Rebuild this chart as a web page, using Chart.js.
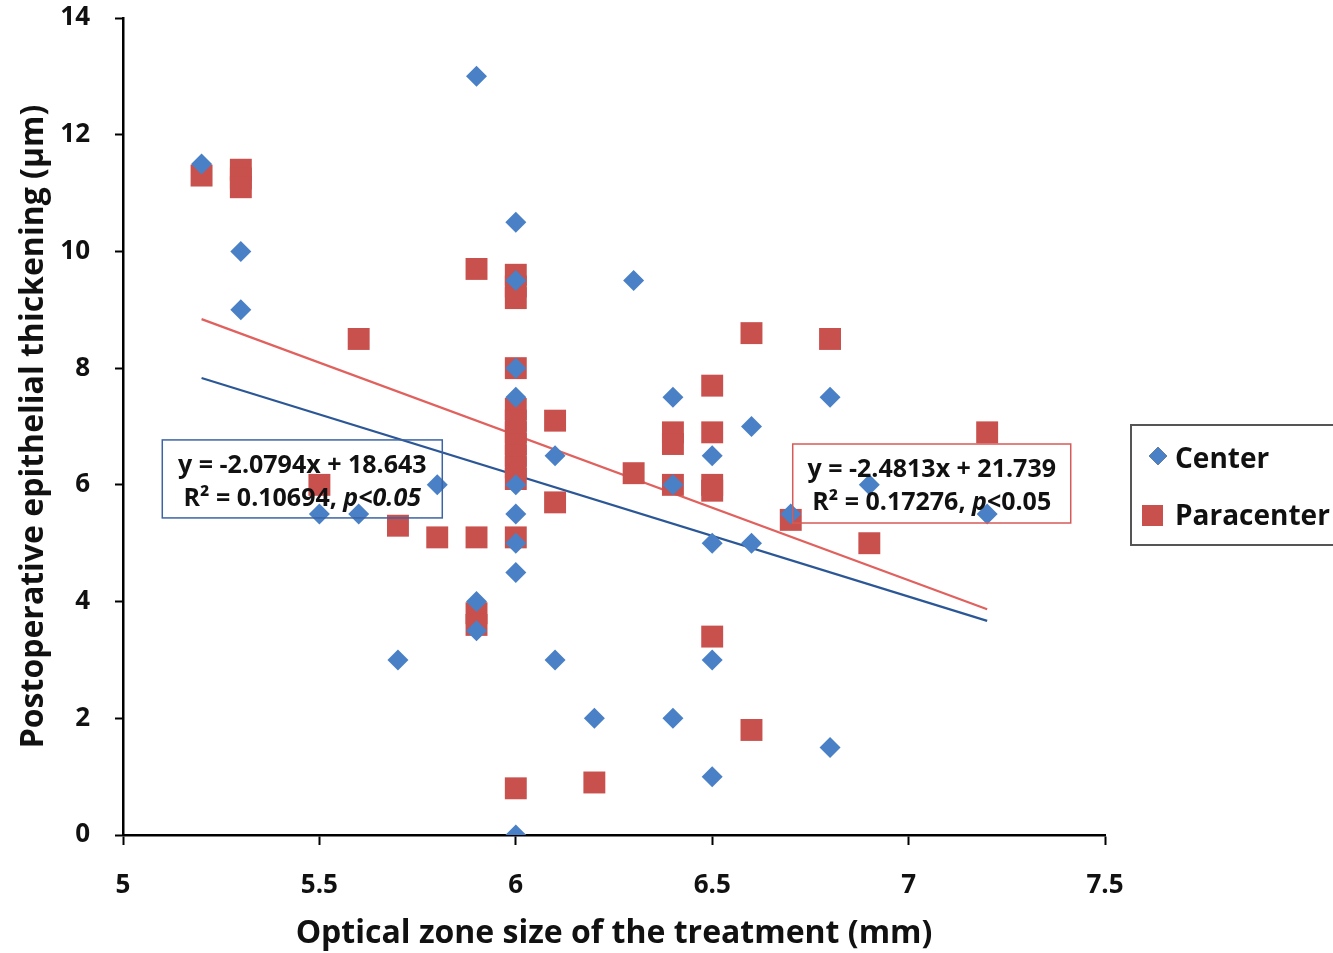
<!DOCTYPE html>
<html lang="en">
<head>
<meta charset="UTF-8">
<title>Optical zone size vs postoperative epithelial thickening</title>
<script src="https://cdn.jsdelivr.net/npm/chart.js"></script>
<style>
    html, body { margin: 0; padding: 0; background: #fff; }
    .wrap { width: 1333px; height: 953px; }
</style>
</head>
<body>
<div class="wrap"><canvas id="chart" width="1333" height="953"></canvas></div>
<script>
// Center (blue diamonds)
const centerX = [5.2, 5.3, 5.3, 5.5, 5.6, 5.7, 5.8, 5.9, 5.9, 5.9,
                 6.0, 6.0, 6.0, 6.0, 6.0, 6.0, 6.0, 6.0, 6.0,
                 6.1, 6.1, 6.2, 6.3, 6.4, 6.4, 6.4, 6.5, 6.5, 6.5, 6.5,
                 6.6, 6.6, 6.7, 6.8, 6.8, 6.9, 7.2];
const centerY = [11.5, 10, 9, 5.5, 5.5, 3, 6, 13, 4, 3.5,
                 10.5, 9.5, 8, 7.5, 6, 5.5, 5, 4.5, 0,
                 6.5, 3, 2, 9.5, 7.5, 6, 2, 6.5, 5, 3, 1,
                 7, 5, 5.5, 7.5, 1.5, 6, 5.5];

// Paracenter (red squares)
const paraX = [5.2, 5.3, 5.3, 5.3, 5.5, 5.6, 5.7, 5.8, 5.9, 5.9, 5.9, 5.9,
               6.0, 6.0, 6.0, 6.0, 6.0, 6.0, 6.0, 6.0, 6.0, 6.0, 6.0, 6.0, 6.0,
               6.1, 6.1, 6.2, 6.3, 6.4, 6.4, 6.4, 6.5, 6.5, 6.5, 6.5, 6.5,
               6.6, 6.6, 6.7, 6.8, 6.9, 7.2];
const paraY = [11.3, 11.4, 11.25, 11.1, 6.0, 8.5, 5.3, 5.1, 9.7, 5.1, 3.8, 3.6,
               9.6, 9.4, 9.2, 8.0, 7.3, 7.1, 6.9, 6.7, 6.5, 6.3, 6.1, 5.1, 0.8,
               7.1, 5.7, 0.9, 6.2, 6.9, 6.7, 6.0, 7.7, 6.9, 6.0, 5.9, 3.4,
               8.6, 1.8, 5.4, 8.5, 5.0, 6.9];

// trend line end points
const centerTrendX = [5.2, 7.2];
const centerTrendY = [7.83, 3.67];
const paraTrendX = [5.2, 7.2];
const paraTrendY = [8.84, 3.87];

const xTicks = [5, 5.5, 6, 6.5, 7, 7.5];
const yTicks = [0, 2, 4, 6, 8, 10, 12, 14];

const seriesNames = ['Center', 'Paracenter'];

// equation boxes, anchored at data coordinates (top-left corner)
const equations = [
    { x: 5.1, y: 6.77, w: 280, h: 78, color: '#3C64A4',
      line1: 'y = -2.0794x + 18.643', line2a: 'R² = 0.10694, ', line2b: 'p<0.05', line2c: '' },
    { x: 6.705, y: 6.70, w: 278, h: 79, color: '#D65A57',
      line1: 'y = -2.4813x + 21.739', line2a: 'R² = 0.17276, ', line2b: 'p', line2c: '<0.05' }
];

const BLUE = '#4A80C6';
const RED = '#C8504D';
const FONT = '"Open Sans", Lato, sans-serif';

function pts(xs, ys) {
    return xs.map((x, i) => ({ x: x, y: ys[i] }));
}

const overlay = {
    id: 'overlay',
    afterDatasetsDraw(chart) {
        const ctx = chart.ctx;
        const sx = chart.scales.x, sy = chart.scales.y;
        ctx.save();
        equations.forEach(eq => {
            const left = sx.getPixelForValue(eq.x);
            const top = sy.getPixelForValue(eq.y);
            ctx.strokeStyle = eq.color;
            ctx.lineWidth = 1.5;
            ctx.strokeRect(left, top, eq.w, eq.h);
            const cx = left + eq.w / 2;
            ctx.fillStyle = '#111';
            ctx.textBaseline = 'middle';
            ctx.textAlign = 'left';
            const bold = '700 25px ' + FONT;
            const ital = 'italic 700 25px ' + FONT;
            ctx.font = bold;
            const w1 = ctx.measureText(eq.line1).width;
            ctx.fillText(eq.line1, cx - w1 / 2, top + 26);
            const wa = ctx.measureText(eq.line2a).width;
            const wc = ctx.measureText(eq.line2c).width;
            ctx.font = ital;
            const wb = ctx.measureText(eq.line2b).width;
            let px = cx - (wa + wb + wc) / 2;
            const py = top + 59;
            ctx.font = bold;
            ctx.fillText(eq.line2a, px, py);
            px += wa;
            ctx.font = ital;
            ctx.fillText(eq.line2b, px, py);
            px += wb;
            ctx.font = bold;
            ctx.fillText(eq.line2c, px, py);
        });
        ctx.restore();
    },
    afterDraw(chart) {
        // legend with frame, to the right of the plot
        const ctx = chart.ctx;
        const area = chart.chartArea;
        const bx = area.right + 26;
        const by = 425;
        ctx.save();
        ctx.strokeStyle = '#555';
        ctx.lineWidth = 2;
        ctx.strokeRect(bx, by, 240, 120);
        Chart.helpers.drawPoint(ctx, { pointStyle: 'rectRot', radius: 9, borderWidth: 0 }, bx + 27, by + 31);
        ctx.fillStyle = BLUE;
        ctx.fill();
        ctx.fillStyle = RED;
        ctx.fillRect(bx + 11, by + 80, 21, 21);
        ctx.fillStyle = '#111';
        ctx.font = '700 28px ' + FONT;
        ctx.textBaseline = 'middle';
        ctx.textAlign = 'left';
        ctx.fillText(seriesNames[0], bx + 44, by + 35);
        ctx.fillText(seriesNames[1], bx + 44, by + 92);
        ctx.restore();
    }
};

new Chart(document.getElementById('chart'), {
    type: 'scatter',
    data: {
        datasets: [
            {
                label: seriesNames[0],
                data: pts(centerX, centerY),
                pointStyle: 'rectRot',
                pointRadius: 10.5,
                pointHoverRadius: 10.5,
                backgroundColor: BLUE,
                borderWidth: 0
            },
            {
                label: seriesNames[1],
                data: pts(paraX, paraY),
                pointStyle: 'rect',
                pointRadius: 15.5,
                pointHoverRadius: 15.5,
                backgroundColor: RED,
                borderWidth: 0
            },
            {
                label: 'Center trend',
                data: pts(centerTrendX, centerTrendY),
                showLine: true,
                pointRadius: 0,
                borderColor: '#2C5797',
                borderWidth: 2.2
            },
            {
                label: 'Paracenter trend',
                data: pts(paraTrendX, paraTrendY),
                showLine: true,
                pointRadius: 0,
                borderColor: '#E0615E',
                borderWidth: 2.2
            }
        ]
    },
    options: {
        responsive: false,
        animation: false,
        layout: { padding: { left: 0, top: 18, right: 228, bottom: 0 } },
        plugins: {
            legend: { display: false },
            tooltip: { enabled: false }
        },
        scales: {
            x: {
                type: 'linear',
                min: 5,
                max: 7.5,
                afterBuildTicks: s => { s.ticks = xTicks.map(v => ({ value: v })); },
                afterFit: s => { s.height = 118; },
                grid: { drawOnChartArea: false, tickLength: 10, color: '#000', tickWidth: 2 },
                border: { color: '#000', width: 2.5 },
                ticks: {
                    color: '#111',
                    padding: 25,
                    font: { family: FONT, size: 26, weight: 700 },
                    callback: v => String(v)
                },
                title: {
                    display: true,
                    text: 'Optical zone size of the treatment (mm)',
                    color: '#111',
                    font: { family: FONT, size: 32, weight: 700 },
                    padding: { top: 0, bottom: 0 }
                }
            },
            y: {
                type: 'linear',
                min: 0,
                max: 14,
                afterBuildTicks: s => { s.ticks = yTicks.map(v => ({ value: v })); },
                afterFit: s => {
                    s.width = 123;
                    s.paddingTop = 0;
                    s.paddingBottom = 0;
                },
                grid: { drawOnChartArea: false, tickLength: 8, color: '#000', tickWidth: 2 },
                border: { color: '#000', width: 2.5 },
                ticks: {
                    color: '#111',
                    padding: 25,
                    font: { family: FONT, size: 26, weight: 700 },
                    callback: v => String(v)
                },
                title: {
                    display: true,
                    text: 'Postoperative epithelial thickening (μm)',
                    color: '#111',
                    font: { family: FONT, size: 32, weight: 700 },
                    padding: { top: 15, bottom: 0 }
                }
            }
        }
    },
    plugins: [overlay]
});
</script>
</body>
</html>
